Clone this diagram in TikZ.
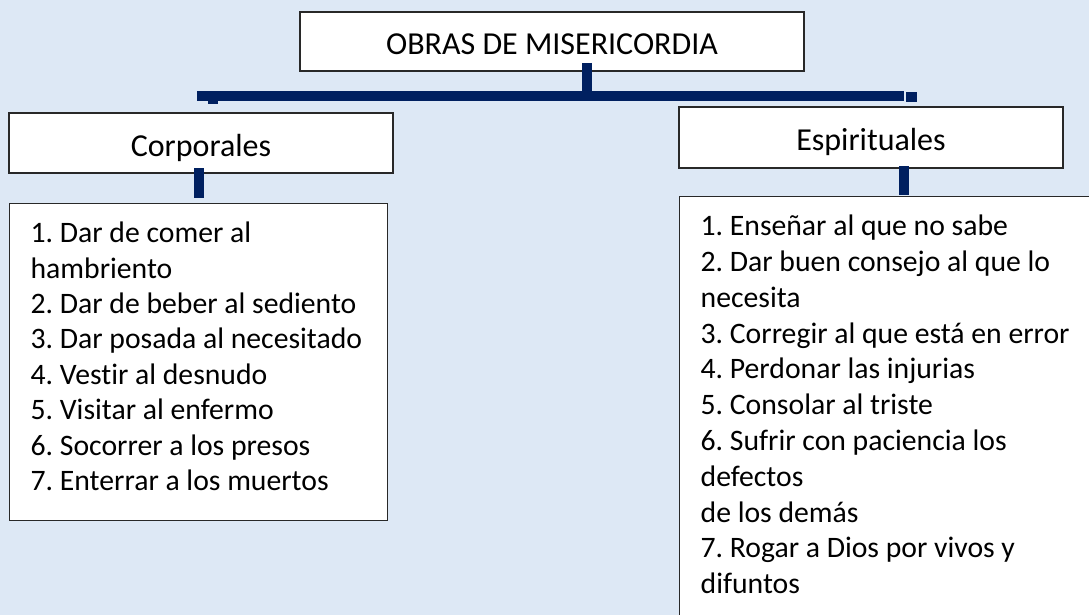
\documentclass[tikz,border=0pt]{standalone}
\usepackage{fontspec}
\setmainfont{Carlito}[Ligatures=NoCommon]
\frenchspacing
\definecolor{bgblue}{RGB}{221,232,245}
\definecolor{navy}{RGB}{0,32,96}
\definecolor{edge}{RGB}{40,40,40}
\tikzset{
  box/.style={draw=edge, line width=1.3pt, fill=white, inner sep=0pt, font=\fontsize{32}{36}\selectfont},
  headbox/.style={box, text height=26pt, text depth=0pt},
  bar/.style={draw=navy, line width=10pt, line cap=butt},
  barfill/.style={fill=navy, draw=none}
}
\begin{document}
\begin{tikzpicture}[x=1pt,y=-1pt]
\fill[bgblue] (0,0) rectangle (1089,615);
\useasboundingbox (0,0) rectangle (1089,615);
\clip (0,0) rectangle (1089,615);

\coordinate (barL) at (197,96);
\coordinate (barR) at (904,96);
\coordinate (stubT) at (587,63);
\coordinate (stubB) at (587,91);
\coordinate (tabA) at (208,101);
\coordinate (tabB) at (218,104);
\coordinate (sqA) at (906,92);
\coordinate (sqB) at (917,102);

\node[headbox, minimum width=504pt, minimum height=59pt] (top) at (552,41.5) {OBRAS DE MISERICORDIA};
\node[headbox, minimum width=384pt, minimum height=60pt] (corp) at (201,143) {Corporales};
\node[headbox, minimum width=384pt, minimum height=61pt] (esp) at (871,137.5) {Espirituales};

\draw[bar] (stubT) -- (stubB);
\draw[bar] (barL) -- (barR);
\fill[barfill] (tabA) rectangle (tabB);
\fill[barfill] (sqA) rectangle (sqB);

\node[box, anchor=north west] (corplist) at (9,203) {\parbox[t][317pt][t]{378pt}{\fontsize{29.7}{35.4}\selectfont\leftskip=21pt
\rule{0pt}{39pt}1. Dar de comer al\\
hambriento\\
2. Dar de beber al sediento\\
3. Dar posada al necesitado\\
4. Vestir al desnudo\\
5. Visitar al enfermo\\
6. Socorrer a los presos\\
7. Enterrar a los muertos}};

\node[box, anchor=north west] (esplist) at (679,196) {\parbox[t][440pt][t]{430pt}{\fontsize{29.7}{35.8}\selectfont\leftskip=21pt
\rule{0pt}{39pt}1. Enseñar al que no sabe\\
2. Dar buen consejo al que lo\\
necesita\\
3. Corregir al que está en error\\
4. Perdonar las injurias\\
5. Consolar al triste\\
6. Sufrir con paciencia los\\
defectos\\
de los demás\\
7. Rogar a Dios por vivos y\\
difuntos}};

\coordinate (c1) at (199,168);
\coordinate (c2) at (199,198);
\coordinate (e1) at (904,166);
\coordinate (e2) at (904,195);
\draw[bar] (c1) -- (c2);
\draw[bar] (e1) -- (e2);
\end{tikzpicture}
\end{document}
